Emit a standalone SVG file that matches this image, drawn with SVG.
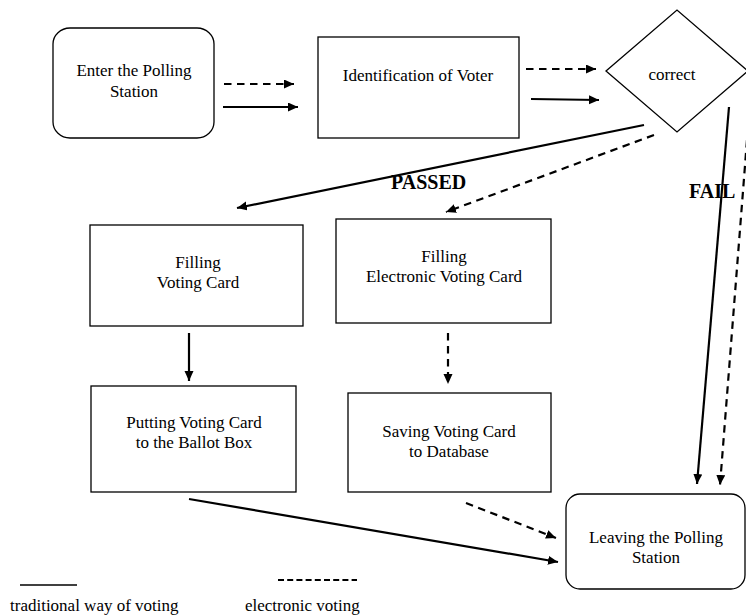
<svg xmlns="http://www.w3.org/2000/svg" width="746" height="615" viewBox="0 0 746 615">
<style>
  .box { fill: #ffffff; stroke: #000000; stroke-width: 1.3; }
  .t { font-family: "Liberation Serif", "Times New Roman", serif; font-size: 17px; fill: #000000; text-anchor: middle; }
  .lbl { font-family: "Liberation Serif", "Times New Roman", serif; font-size: 20px; font-weight: bold; fill: #000000; }
  .leg { font-family: "Liberation Serif", "Times New Roman", serif; font-size: 17px; fill: #000000; }
  .solid { fill: none; stroke: #000000; stroke-width: 2.2; marker-end: url(#ah); }
  .dash { fill: none; stroke: #000000; stroke-width: 2.2; stroke-dasharray: 7.5 5.5; marker-end: url(#ah); }
</style>
<defs>
  <marker id="ah" markerUnits="userSpaceOnUse" markerWidth="11" markerHeight="10" refX="10" refY="4.5" orient="auto">
    <path d="M0,0 L10,4.5 L0,9 Z" fill="#000000"/>
  </marker>
</defs>
<rect width="746" height="615" fill="#ffffff"/>

<g id="connectors">
  <line class="dash" x1="224" y1="84" x2="294" y2="84"/>
  <line class="solid" x1="223" y1="107" x2="298" y2="107"/>
  <line class="dash" x1="526" y1="69" x2="596" y2="69"/>
  <line class="solid" x1="531" y1="99" x2="599" y2="100"/>
  <line class="solid" x1="644" y1="125" x2="237" y2="208"/>
  <line class="dash" x1="654" y1="135" x2="446" y2="212"/>
  <line class="solid" x1="729" y1="107" x2="697" y2="484"/>
  <line class="dash" x1="747" y1="140" x2="720" y2="485"/>
  <line class="solid" x1="189" y1="333" x2="189" y2="381"/>
  <line class="dash" x1="448" y1="333" x2="448" y2="384"/>
  <line class="solid" x1="189" y1="499" x2="558" y2="562"/>
  <line class="dash" x1="466" y1="503" x2="556" y2="538"/>
</g>

<g id="node-enter">
  <rect class="box" x="53" y="28" width="161" height="110" rx="17" ry="16"/>
  <text class="t" x="134" y="76">Enter the Polling</text>
  <text class="t" x="134" y="97">Station</text>
</g>

<g id="node-identification">
  <rect class="box" x="318" y="37" width="201" height="101"/>
  <text class="t" x="418" y="81">Identification of Voter</text>
</g>

<g id="node-correct">
  <polygon class="box" points="606,71 677,10 748,71 677,132"/>
  <text class="t" x="672" y="80">correct</text>
</g>

<g id="node-filling">
  <rect class="box" x="90" y="225" width="213" height="101"/>
  <text class="t" x="198" y="268">Filling</text>
  <text class="t" x="198" y="288">Voting Card</text>
</g>

<g id="node-filling-electronic">
  <rect class="box" x="336" y="219" width="215" height="104"/>
  <text class="t" x="444" y="262">Filling</text>
  <text class="t" x="444" y="282">Electronic Voting Card</text>
</g>

<g id="node-putting">
  <rect class="box" x="91" y="386" width="205" height="106"/>
  <text class="t" x="194" y="428">Putting Voting Card</text>
  <text class="t" x="194" y="448">to the Ballot Box</text>
</g>

<g id="node-saving">
  <rect class="box" x="348" y="393" width="203" height="99"/>
  <text class="t" x="449" y="437">Saving Voting Card</text>
  <text class="t" x="449" y="457">to Database</text>
</g>

<g id="node-leaving">
  <rect class="box" x="566" y="494" width="179" height="95" rx="14" ry="14"/>
  <text class="t" x="656" y="543">Leaving the Polling</text>
  <text class="t" x="656" y="563">Station</text>
</g>

<g id="labels">
  <text class="lbl" x="391" y="189">PASSED</text>
  <text class="lbl" x="689" y="198">FAIL</text>
</g>

<g id="legend">
  <line x1="20" y1="585" x2="77" y2="585" stroke="#000000" stroke-width="1.5"/>
  <line x1="278" y1="580" x2="357" y2="580" stroke="#000000" stroke-width="2" stroke-dasharray="6 3.2"/>
  <text class="leg" x="10" y="611">traditional way of voting</text>
  <text class="leg" x="245" y="611">electronic voting</text>
</g>
</svg>
